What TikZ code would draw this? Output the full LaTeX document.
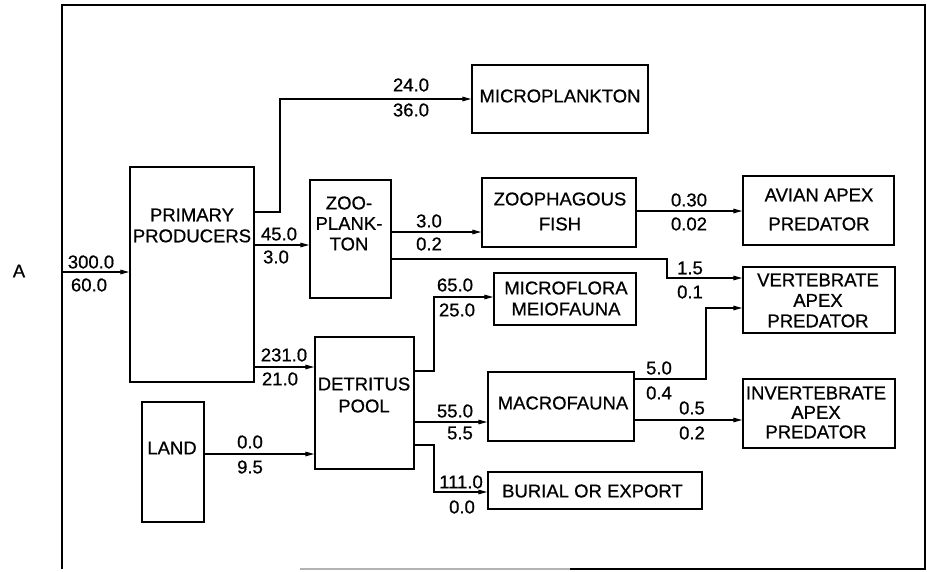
\documentclass[tikz,border=0pt]{standalone}
\usepackage{fontspec}
\setmainfont{Liberation Sans}[FakeBold=0.7]
\usetikzlibrary{arrows.meta}
\begin{document}
\begin{tikzpicture}[x=1pt,y=-1pt,
  box/.style={draw, line width=1.4pt, inner sep=0pt},
  txt/.style={font=\fontsize{18.5}{21}\selectfont, inner sep=0pt, align=center},
  num/.style={font=\fontsize{18.5}{21}\selectfont, inner sep=0pt},
  ln/.style={line width=1.3pt},
  arr/.style={line width=1.3pt, -{Triangle[length=9pt,width=4.5pt]}}]
\useasboundingbox (0,0) rectangle (927,571);
% frame
\draw[ln] (62,569) -- (62,5) -- (925,5) -- (925,569) -- (570,569);
\draw[line width=1.3pt, black!30] (300,569) -- (570,569);
\node[txt] (a) at (19,271) {A};
% boxes
\node[box, minimum width=124pt, minimum height=215pt] (pp) at (192,274.5) {};
\node[box, minimum width=176pt, minimum height=68pt] (micro) at (560,99) {};
\node[box, minimum width=81pt, minimum height=118pt] (zoo) at (350.5,239) {};
\node[box, minimum width=154pt, minimum height=69pt] (fish) at (559,212.5) {};
\node[box, minimum width=151pt, minimum height=69pt] (avian) at (818.5,210.5) {};
\node[box, minimum width=152pt, minimum height=66pt] (vert) at (819,300) {};
\node[box, minimum width=142pt, minimum height=52pt] (mflora) at (565,299) {};
\node[box, minimum width=99pt, minimum height=132pt] (det) at (364.5,403) {};
\node[box, minimum width=146pt, minimum height=69pt] (macro) at (561,406.5) {};
\node[box, minimum width=152pt, minimum height=69pt] (invert) at (819,413.5) {};
\node[box, minimum width=214pt, minimum height=37pt] (burial) at (595,490.5) {};
\node[box, minimum width=62pt, minimum height=120pt] (land) at (173,462) {};
% box texts
\node[txt] (pp-t) at (192,225.5) {PRIMARY\\PRODUCERS};
\node[txt] (micro-t) at (560,96) {MICROPLANKTON};
\node[txt, font=\fontsize{18.5}{20.5}\selectfont] (zoo-t) at (349,223.5) {ZOO-\\PLANK-\\TON};
\node[txt, font=\fontsize{18.5}{25}\selectfont] (fish-t) at (560,211.5) {ZOOPHAGOUS\\FISH};
\node[txt, font=\fontsize{18.5}{29}\selectfont] (avian-t) at (819,209.5) {AVIAN APEX\\PREDATOR};
\node[txt, font=\fontsize{18.5}{20.5}\selectfont] (vert-t) at (818,300.5) {VERTEBRATE\\APEX\\PREDATOR};
\node[txt] (mflora-t) at (566,298.5) {MICROFLORA\\MEIOFAUNA};
\node[txt, font=\fontsize{18.5}{22}\selectfont] (det-t) at (364,395) {DETRITUS\\POOL};
\node[txt] (macro-t) at (563,403) {MACROFAUNA};
\node[txt, font=\fontsize{18.5}{19.5}\selectfont] (invert-t) at (816,412.5) {INVERTEBRATE\\APEX\\PREDATOR};
\node[txt] (burial-t) at (592.5,491) {BURIAL OR EXPORT};
\node[txt] (land-t) at (172,448) {LAND};
% rail coordinates
\coordinate (in) at (62,272);
\coordinate (k1) at (280,212);
\coordinate (r245) at (0,245);
\coordinate (r232) at (0,232);
\coordinate (r211) at (0,211);
\coordinate (k2) at (667,259);
\coordinate (r278) at (0,278);
\coordinate (r367) at (0,367);
\coordinate (k3) at (434,371);
\coordinate (r297) at (0,297);
\coordinate (r422) at (0,422);
\coordinate (k4) at (434,445);
\coordinate (r492) at (0,492);
\coordinate (r454) at (0,454);
\coordinate (k5) at (706,379);
\coordinate (r308) at (0,308);
\coordinate (r420) at (0,420);
% connectors
\draw[arr] (in) -- (in -| pp.west);
\draw[arr] (pp.east |- k1) -- (k1) |- (micro.west);
\draw[arr] (pp.east |- r245) -- (zoo.west |- r245);
\draw[arr] (zoo.east |- r232) -- (fish.west |- r232);
\draw[arr] (fish.east |- r211) -- (avian.west |- r211);
\draw[arr] (zoo.east |- k2) -- (k2) |- (vert.west |- r278);
\draw[arr] (pp.east |- r367) -- (det.west |- r367);
\draw[arr] (det.east |- k3) -- (k3) |- (mflora.west |- r297);
\draw[arr] (det.east |- r422) -- (macro.west |- r422);
\draw[arr] (det.east |- k4) -- (k4) |- (burial.west |- r492);
\draw[arr] (land.east |- r454) -- (det.west |- r454);
\draw[arr] (macro.east |- k5) -- (k5) |- (vert.west |- r308);
\draw[arr] (macro.east |- r420) -- (invert.west |- r420);
% flow labels
\node[num] (l1a) at (91,262) {300.0};
\node[num] (l1b) at (89,285) {60.0};
\node[num] (l2a) at (411,85) {24.0};
\node[num] (l2b) at (411,110) {36.0};
\node[num] (l3a) at (279,234) {45.0};
\node[num] (l3b) at (276,257) {3.0};
\node[num] (l4a) at (429,221) {3.0};
\node[num] (l4b) at (429,244) {0.2};
\node[num] (l5a) at (689,200) {0.30};
\node[num] (l5b) at (689,224) {0.02};
\node[num] (l6a) at (690,268) {1.5};
\node[num] (l6b) at (690,292) {0.1};
\node[num] (l7a) at (284,355) {231.0};
\node[num] (l7b) at (280,379) {21.0};
\node[num] (l8a) at (455,285) {65.0};
\node[num] (l8b) at (457,310) {25.0};
\node[num] (l9a) at (455,411) {55.0};
\node[num] (l9b) at (460,433) {5.5};
\node[num] (l10a) at (461,482) {111.0};
\node[num] (l10b) at (462,507) {0.0};
\node[num] (l11a) at (250,442) {0.0};
\node[num] (l11b) at (250,467) {9.5};
\node[num] (l12a) at (659,368) {5.0};
\node[num] (l12b) at (659,393) {0.4};
\node[num] (l13a) at (692,408) {0.5};
\node[num] (l13b) at (692,433) {0.2};
\end{tikzpicture}
\end{document}
